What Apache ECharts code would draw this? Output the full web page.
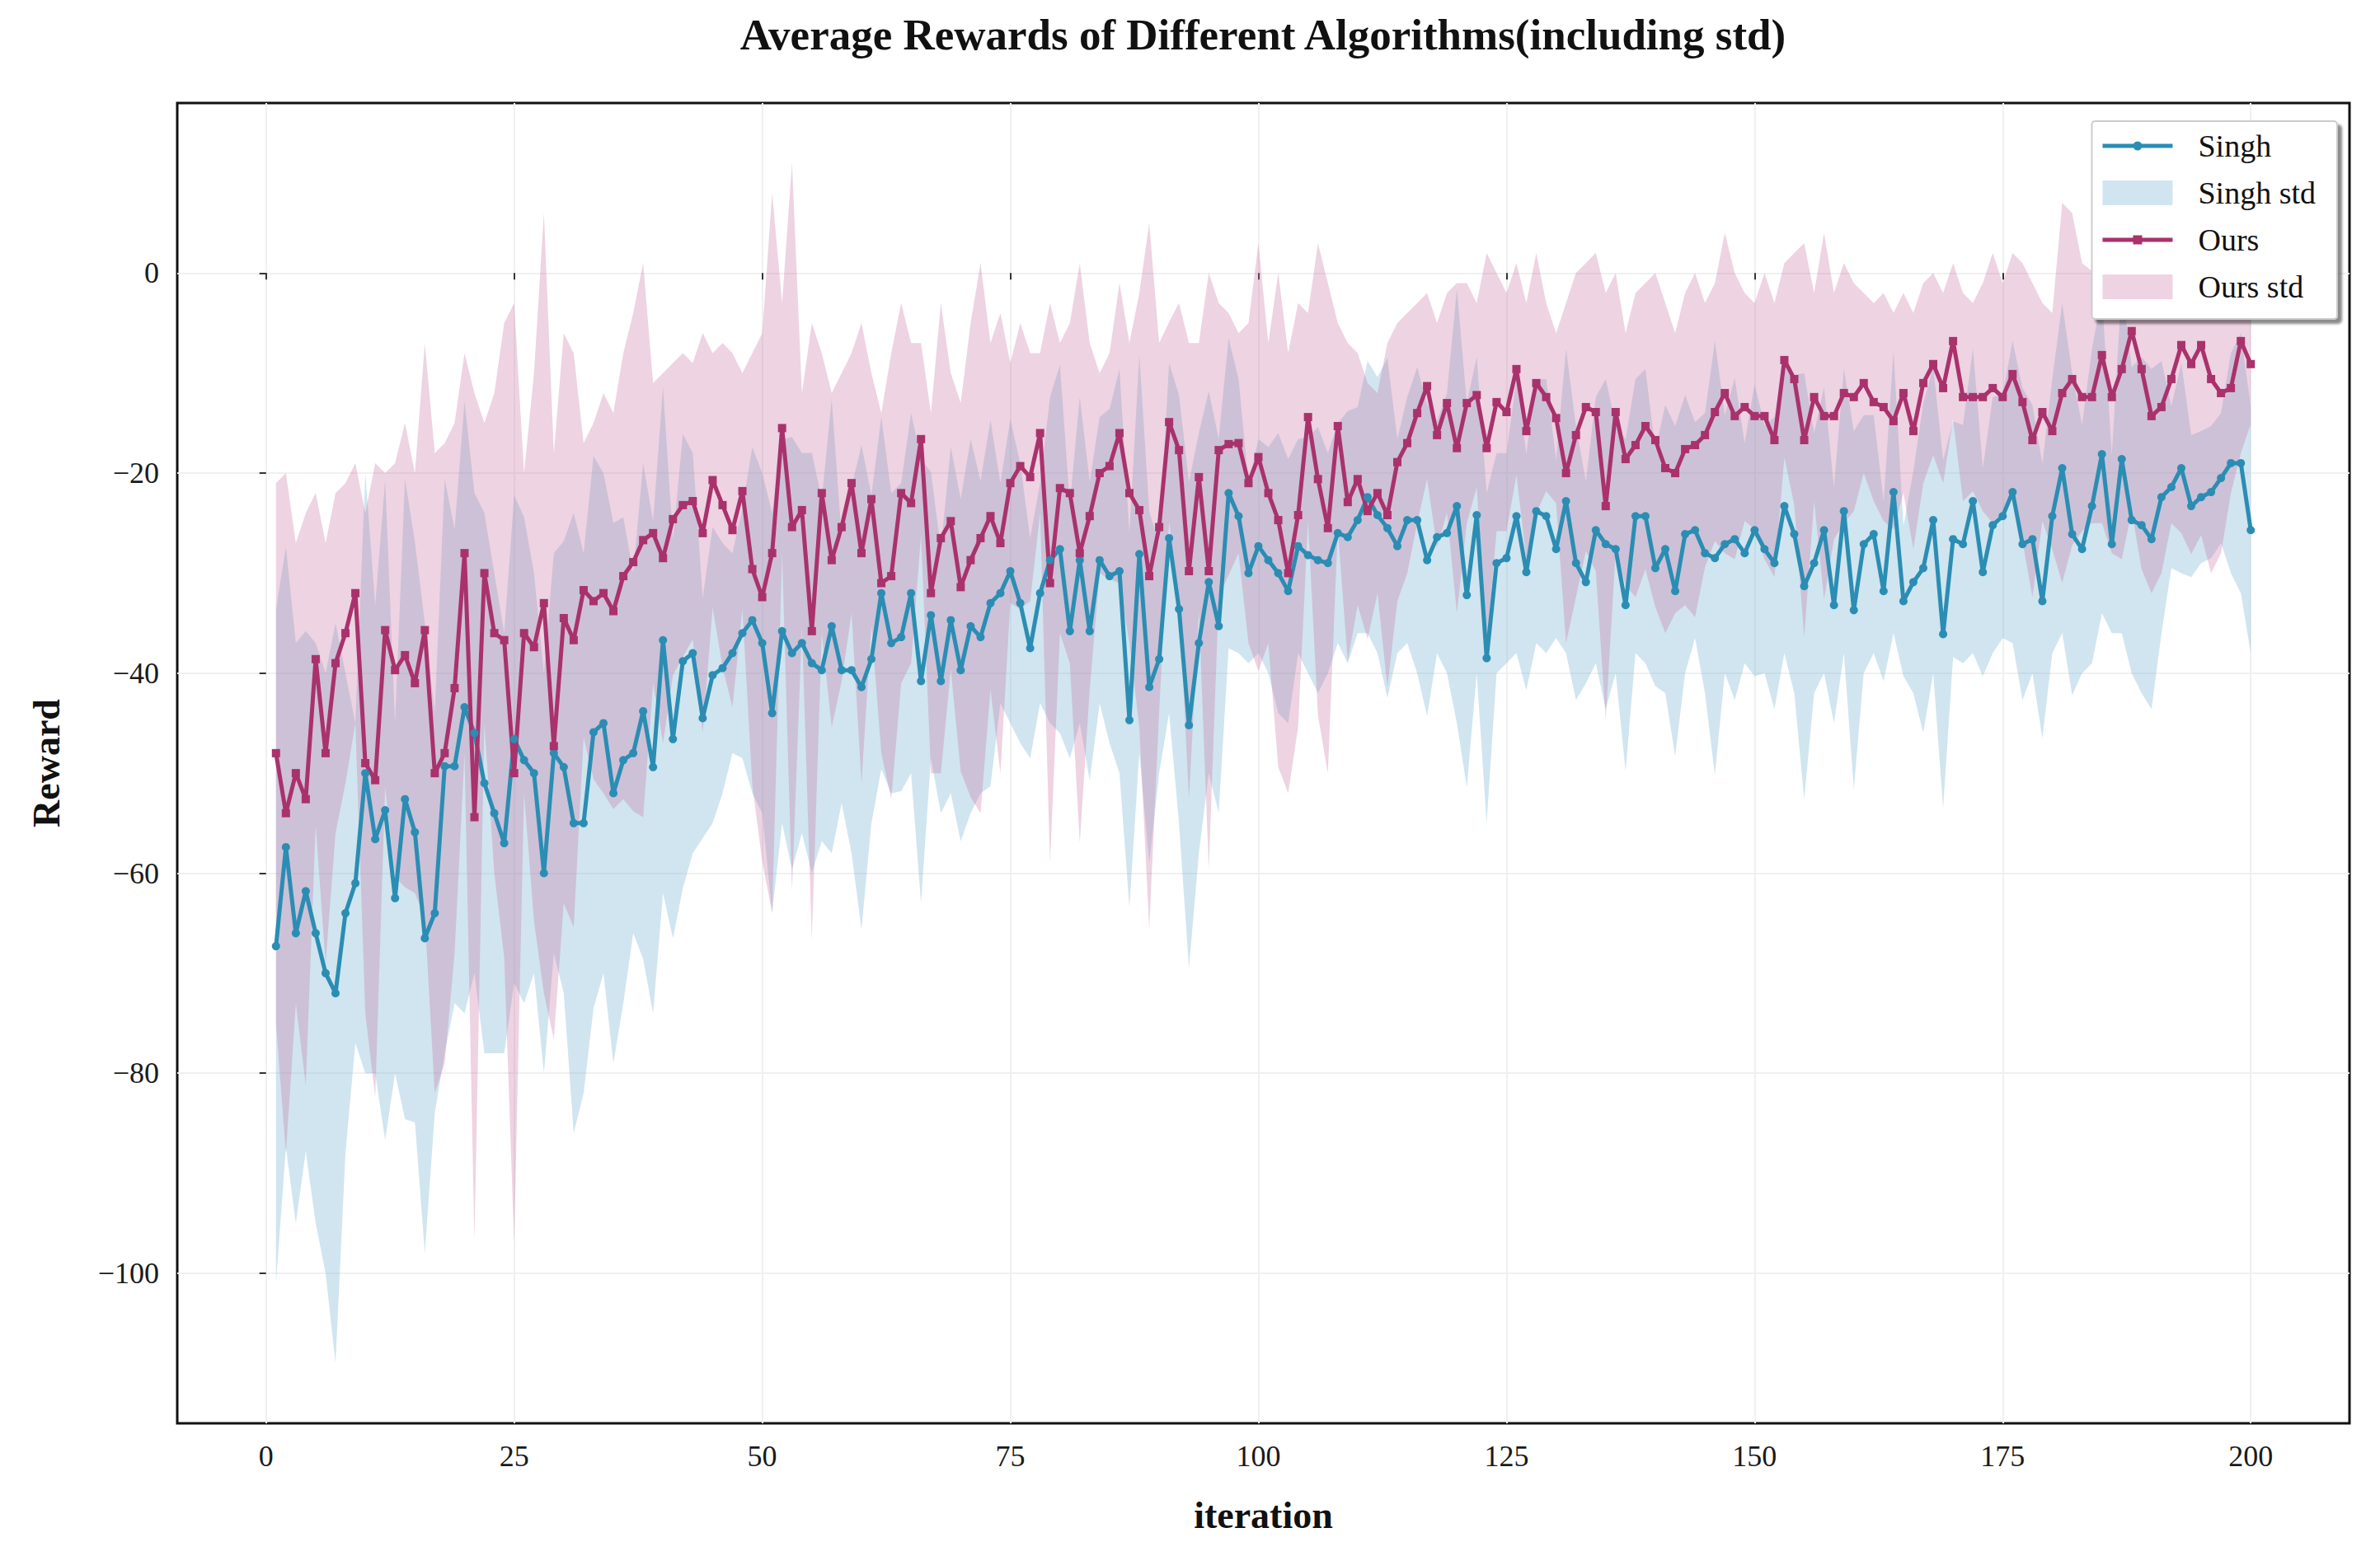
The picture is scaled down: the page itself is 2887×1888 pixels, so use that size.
<!DOCTYPE html>
<html>
<head>
<meta charset="utf-8">
<title>Average Rewards of Different Algorithms</title>
<script src="https://cdn.jsdelivr.net/npm/echarts@6.0.0/dist/echarts.min.js"></script>
<style>
  html, body { margin: 0; padding: 0; background: #ffffff; }
  #chart { width: 2887px; height: 1888px; }
</style>
</head>
<body>
<div id="chart"></div>
<script>
// iteration index (x), one entry per training iteration
const iterations = Array.from({ length: 200 }, (_, i) => i + 1);

// values
const singhMean = [
  -67.3, -57.4, -66, -61.8, -66, -70, -72, -64, -61, -50,
  -56.6, -53.7, -62.5, -52.6, -55.9, -66.5, -64, -49.3, -49.3, -43.4,
  -46, -51, -54, -57, -46.6, -48.7, -50, -60, -48, -49.4,
  -55, -55, -45.9, -45, -52, -48.7, -48, -43.8, -49.4, -36.7,
  -46.6, -38.8, -38, -44.5, -40.2, -39.5, -38, -36, -34.7, -37,
  -44, -35.8, -38, -37, -39, -39.7, -35.3, -39.7, -39.7, -41.4,
  -38.6, -32, -37, -36.4, -32, -40.8, -34.2, -40.8, -34.7, -39.7,
  -35.3, -36.4, -33, -32, -29.8, -33, -37.5, -32, -28.7, -27.6,
  -35.8, -28.7, -35.8, -28.7, -30.3, -29.8, -44.7, -28.1, -41.4, -38.6,
  -26.5, -33.6, -45.2, -37, -30.9, -35.3, -22, -24.3, -30, -27.3,
  -28.7, -30, -31.8, -27.3, -28.2, -28.7, -29, -26, -26.4, -24.7,
  -22.4, -24.2, -25.5, -27.3, -24.7, -24.7, -28.7, -26.4, -26, -23.3,
  -32.2, -24.2, -38.5, -29, -28.5, -24.3, -29.9, -23.8, -24.3, -27.6,
  -22.8, -29, -30.9, -25.7, -27.1, -27.6, -33.2, -24.3, -24.3, -29.5,
  -27.6, -31.8, -26.1, -25.7, -28, -28.5, -27.1, -26.6, -28, -25.7,
  -27.6, -29, -23.3, -26.1, -31.3, -29, -25.7, -33.2, -23.8, -33.7,
  -27.1, -26.1, -31.8, -21.9, -32.8, -30.9, -29.5, -24.7, -36.1, -26.6,
  -27.1, -22.8, -29.9, -25.2, -24.3, -21.9, -27.1, -26.6, -32.8, -24.3,
  -19.5, -26.1, -27.6, -23.3, -18.1, -27.1, -18.6, -24.7, -25.2, -26.6,
  -22.4, -21.4, -19.5, -23.3, -22.4, -21.9, -20.5, -19, -19, -25.7
];

const singhStd = [
  33.7, 30, 29, 26, 29, 30, 37, 24, 16, 30,
  23.4, 33, 17.5, 32, 29, 31.5, 20, 28.7, 23.7, 30.6,
  24, 27, 24, 21, 24.4, 24.3, 20, 20, 20, 22.6,
  31, 27, 27.6, 25, 27, 24.3, 18, 24.8, 24.6, 25.3,
  19.9, 22.7, 20, 12, 14.8, 12.5, 10, 12.5, 17.3, 17,
  20, 19.2, 21.6, 19, 21, 17.1, 22.7, 13.3, 18.3, 24.2,
  16.4, 17.6, 15, 15.4, 18, 22.2, 14.3, 13.2, 17.3, 17.1,
  18.7, 15.6, 18.3, 11, 15.2, 14, 11, 11, 16.3, 18.4,
  12.7, 16.3, 14.9, 14.3, 16.7, 20.2, 18.7, 19.9, 17.6, 11.4,
  17.5, 21.4, 24.3, 21, 19.1, 18.7, 15.5, 13.7, 9, 10.7,
  11.3, 14, 13.2, 10.7, 11.8, 13.3, 11, 11, 12.6, 11.3,
  13.6, 13.8, 17, 10.7, 12.3, 15.3, 15.6, 11.6, 14, 21.7,
  19.2, 15.8, 16.5, 11, 10.5, 13.7, 11.8, 13.2, 13.7, 8.9,
  15.2, 13.7, 10.1, 13.3, 16.5, 12.4, 16.6, 13.7, 14.7, 11.8,
  14.4, 16.5, 13.9, 10.8, 14, 21.7, 12.9, 16.1, 11, 14.6,
  12.4, 14.6, 14.7, 15.9, 21.3, 13, 14.3, 11.8, 14.2, 17.9,
  12.9, 11.9, 9, 14.1, 7.5, 11.1, 16.5, 15.3, 17.4, 11.8,
  11.9, 15.2, 10.4, 12.8, 12.2, 15.1, 15.6, 13.4, 13.7, 13.7,
  16.5, 16.1, 12.4, 15.7, 15.9, 8.9, 17.4, 15.3, 16.8, 17,
  13.6, 8.1, 10.5, 7.1, 6.6, 6.6, 6.5, 11, 13, 12.3
];

const oursMean = [
  -48, -54, -50, -52.6, -38.6, -48, -39, -36, -32, -49,
  -50.7, -35.7, -39.7, -38.2, -41, -35.7, -50, -48, -41.5, -28,
  -54.4, -30, -36, -36.7, -50, -36, -37.4, -33, -47.3, -34.5,
  -36.7, -31.7, -32.8, -32, -33.8, -30.3, -28.9, -26.7, -26, -28.5,
  -24.6, -23.2, -22.8, -26, -20.7, -23.2, -25.7, -21.8, -29.6, -32.4,
  -28, -15.5, -25.4, -23.7, -35.8, -22, -28.7, -25.4, -21, -28,
  -22.6, -31, -30.3, -22, -23, -16.6, -32, -26.5, -24.8, -31.4,
  -28.7, -26.5, -24.3, -27, -21, -19.3, -20.4, -16, -31, -21.5,
  -22, -28, -24.3, -20, -19.3, -16, -22, -23.7, -30.3, -25.4,
  -14.9, -17.7, -29.8, -20.4, -29.8, -17.7, -17.1, -17, -21, -18.4,
  -22, -24.7, -30, -24.2, -14.4, -20.6, -25.5, -15.3, -22.9, -20.6,
  -23.8, -22, -24.2, -18.9, -17, -14, -11.3, -16.2, -13, -17.5,
  -13, -12.2, -17.5, -12.9, -13.9, -9.6, -15.8, -11, -12.4, -14.5,
  -20, -16.2, -13.4, -13.9, -23.3, -13.9, -18.6, -17.2, -15.3, -16.7,
  -19.5, -20, -17.6, -17.2, -16.2, -13.9, -12, -14.3, -13.4, -14.3,
  -14.3, -16.7, -8.7, -10.6, -16.7, -12.4, -14.3, -14.3, -12, -12.4,
  -11, -12.9, -13.4, -14.8, -12, -15.8, -11, -9.1, -11.5, -6.8,
  -12.4, -12.4, -12.4, -11.5, -12.4, -10.1, -12.9, -16.7, -13.9, -15.8,
  -12, -10.6, -12.4, -12.4, -8.2, -12.4, -9.6, -5.8, -9.6, -14.3,
  -13.4, -10.6, -7.2, -9.1, -7.2, -10.6, -12, -11.5, -6.8, -9.1
];

const oursStd = [
  27, 34, 23, 28.6, 16.6, 21, 17, 15, 13, 25,
  31.7, 15.7, 20.7, 23.2, 21, 28.7, 32, 31, 26.5, 20,
  42.4, 15, 24, 31.7, 47, 16, 27.4, 39, 29.3, 28.5,
  28.7, 14.7, 17.8, 20, 19.8, 22.3, 24.9, 27.7, 15, 18.5,
  15.6, 15.2, 13.8, 20, 12.7, 16.2, 17.7, 11.8, 21.6, 26.4,
  36, 12.5, 36.4, 11.7, 30.8, 14, 16.7, 15.4, 13, 23,
  12.6, 17, 22.3, 19, 16, 9.6, 18, 23.5, 14.8, 18.4,
  23.7, 27.5, 17.3, 23, 12, 14.3, 12.4, 8, 28, 14.5,
  17, 29, 17.3, 10, 11.3, 15, 15, 21.7, 35.3, 18.4,
  10, 14.7, 22.8, 13.4, 29.8, 14.7, 13.1, 11, 16, 21.4,
  15, 24.7, 22, 21.2, 10.4, 23.6, 24.5, 10.3, 15.9, 12.6,
  12.8, 10, 17.2, 13.9, 13, 11, 9.3, 11.2, 11, 16.5,
  12, 9.2, 19.5, 12.9, 11.9, 10.6, 12.8, 13, 9.4, 8.5,
  17, 16.2, 14.4, 15.9, 21.3, 13.9, 12.6, 15.2, 14.3, 16.7,
  16.5, 14, 15.6, 17.2, 13.2, 12.9, 16, 14.3, 11.4, 11.3,
  14.3, 13.7, 9.7, 12.6, 19.7, 10.4, 18.3, 12.3, 13, 11.4,
  9, 9.9, 11.4, 10.8, 10, 11.8, 10, 9.1, 9.5, 7.8,
  10.4, 9.4, 11.4, 13.5, 11.4, 12.1, 13.9, 15.7, 10.9, 11.8,
  19, 16.6, 13.4, 12.6, 16.8, 15.6, 19, 18, 20, 17.7,
  16.6, 14.4, 18.8, 19, 19, 19.4, 16, 10.5, 11.2, 6
];

const xTicks = [0, 25, 50, 75, 100, 125, 150, 175, 200];
const yTicks = [-100, -80, -60, -40, -20, 0];

const SERIF = '"Liberation Serif", "DejaVu Serif", serif';
const SINGH = '#2b8db3';
const OURS = '#a9326c';
const SINGH_BAND = 'rgba(120, 180, 210, 0.35)';
const OURS_BAND = 'rgba(200, 110, 160, 0.30)';

// legend icons: line + marker, box for the std bands (extra speck keeps text offset)
const SPECK = ' M110.8,29.8 L111,30 L110.8,30 Z M0,0 L0.2,0 L0,0.2 Z';
const ICON_SINGH = 'path://M0,12.4 L85,12.4 L85,17.6 L0,17.6 Z M37,15 A5.5,5.5 0 1,1 48,15 A5.5,5.5 0 1,1 37,15 Z' + SPECK;
const ICON_OURS = 'path://M0,12.4 L85,12.4 L85,17.6 L0,17.6 Z M37,9.5 L48,9.5 L48,20.5 L37,20.5 Z' + SPECK;
const ICON_BAND = 'path://M0,0 L85,0 L85,30 L0,30 Z' + SPECK;

const pts = ys => ys.map((y, i) => [iterations[i], y]);
const minus = v => String(v).replace('-', '\u2212');

// mean ± std band drawn as one polygon through the cartesian scales
function bandSeries(name, mean, std, color) {
  return {
    name,
    type: 'custom',
    silent: true,
    z: 1,
    itemStyle: { color },
    data: [[iterations[0], mean[0]]],
    renderItem: (params, api) => {
      const upper = mean.map((m, i) => api.coord([iterations[i], m + std[i]]));
      const lower = mean.map((m, i) => api.coord([iterations[i], m - std[i]])).reverse();
      return {
        type: 'polygon',
        shape: { points: upper.concat(lower) },
        style: { fill: color, stroke: null },
      };
    },
  };
}

const chart = echarts.init(document.getElementById('chart'), null, { renderer: 'svg' });

const option = {
  animation: false,
  backgroundColor: '#ffffff',
  title: {
    text: 'Average Rewards of Different Algorithms(including std)',
    left: 1527,
    top: 10,
    textAlign: 'center',
    textStyle: { fontFamily: SERIF, fontWeight: 'bold', fontSize: 53, color: '#111' },
  },
  legend: {
    orient: 'vertical',
    right: 52,
    top: 147,
    data: [
      { name: 'Singh', icon: ICON_SINGH },
      { name: 'Singh std', icon: ICON_BAND },
      { name: 'Ours', icon: ICON_OURS },
      { name: 'Ours std', icon: ICON_BAND },
    ],
    itemWidth: 111,
    itemHeight: 30,
    itemGap: 19,
    itemStyle: { borderWidth: 0 },
    textStyle: { fontFamily: SERIF, fontSize: 38, color: '#111' },
    backgroundColor: '#ffffff',
    borderColor: '#cccccc',
    borderWidth: 2,
    borderRadius: 4,
    padding: [11, 26, 20, 13],
    shadowColor: 'rgba(0,0,0,0.45)',
    shadowBlur: 3,
    shadowOffsetX: 5,
    shadowOffsetY: 5,
  },
  grid: {
    left: 215,
    right: 37,
    top: 125,
    bottom: 161,
    show: true,
    borderColor: '#111',
    borderWidth: 3,
    backgroundColor: '#ffffff',
  },
  xAxis: {
    type: 'value',
    min: -8.95,
    max: 209.95,
    name: 'iteration',
    nameLocation: 'middle',
    nameGap: 88,
    nameTextStyle: { fontFamily: SERIF, fontWeight: 'bold', fontSize: 46, color: '#111' },
    axisLine: { show: false },
    axisTick: { show: true, length: 8, customValues: xTicks, lineStyle: { color: '#333', width: 2 } },
    axisLabel: { customValues: xTicks, margin: 22, fontFamily: SERIF, fontSize: 36, color: '#1a1a1a' },
    splitLine: { show: true, lineStyle: { color: '#f0f0f0', width: 2 } },
  },
  yAxis: {
    type: 'value',
    min: -115,
    max: 17,
    name: 'Reward',
    nameLocation: 'middle',
    nameGap: 136,
    nameTextStyle: { fontFamily: SERIF, fontWeight: 'bold', fontSize: 46, color: '#111' },
    axisLine: { show: false },
    axisTick: { show: true, length: 8, customValues: yTicks, lineStyle: { color: '#333', width: 2 } },
    axisLabel: { customValues: yTicks, margin: 22, fontFamily: SERIF, fontSize: 36, color: '#1a1a1a', formatter: minus },
    splitLine: { show: true, lineStyle: { color: '#f0f0f0', width: 2 } },
  },
  series: [
    bandSeries('Singh std', singhMean, singhStd, SINGH_BAND),
    bandSeries('Ours std', oursMean, oursStd, OURS_BAND),
    {
      name: 'Singh',
      type: 'line',
      data: pts(singhMean),
      color: SINGH,
      symbol: 'circle',
      symbolSize: 10,
      lineStyle: { width: 5, color: SINGH },
      itemStyle: { color: SINGH, borderWidth: 0 },
      z: 3,
    },
    {
      name: 'Ours',
      type: 'line',
      data: pts(oursMean),
      color: OURS,
      symbol: 'rect',
      symbolSize: 10,
      lineStyle: { width: 5, color: OURS },
      itemStyle: { color: OURS, borderWidth: 0 },
      z: 3,
    },
  ],
};

chart.setOption(option);
window.addEventListener('resize', () => chart.resize());
</script>
</body>
</html>
